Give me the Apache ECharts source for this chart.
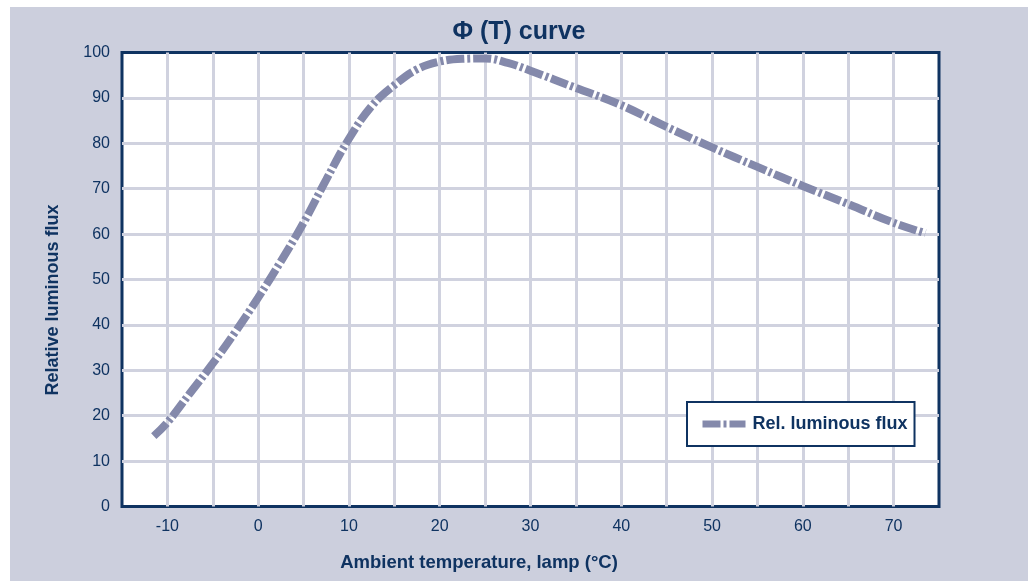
<!DOCTYPE html>
<html>
<head>
<meta charset="utf-8">
<script src="https://cdn.jsdelivr.net/npm/echarts@6/dist/echarts.min.js"></script>
<style>
    html, body {margin: 0; padding: 0; background: #ffffff;}
    #chart {position: absolute; left: 10px; top: 7px; width: 1018px; height: 574px;}
</style>
</head>
<body>
<div id="chart"></div>
<script>
// temperature (°C) and relative luminous flux
const temps = [-11.5, -10, -7.5, -5, -2.5, 0, 2.5, 5, 7.5, 10, 12.5, 15, 17.5, 20, 22.5, 25, 27.5, 30, 35, 40, 45, 50, 55, 60, 65, 70, 73.5];
const flux = [15.5, 18.5, 25, 31.5, 38.5, 46, 54, 62.5, 72, 81, 88.2, 92.8, 96.3, 98, 98.6, 98.7, 97.7, 96, 92.2, 88.4, 83.6, 79.1, 74.8, 70.6, 66.6, 62.5, 60.2];
const seriesName = 'Rel. luminous flux';
const titleText = 'Φ (T) curve';
const xName = 'Ambient temperature, lamp (°C)';
const yName = 'Relative luminous flux';

const navy = '#0f3361';
const curveColor = '#8489ab';
const font = "'Liberation Sans', Arial, sans-serif";

let myChart = echarts.init(document.getElementById('chart'));
let option = {
    backgroundColor: '#cccfdd',
    animation: false,
    title: {
        text: titleText,
        left: 'center',
        top: 8,
        padding: [5, 12, 5, 5],
        textStyle: {color: navy, fontSize: 25, fontWeight: 'bold', fontFamily: font}
    },
    grid: {
        left: 112,
        top: 45.5,
        right: 89,
        bottom: 74.5,
        show: true,
        backgroundColor: '#ffffff',
        borderColor: navy,
        borderWidth: 3
    },
    legend: {
        left: 677,
        top: 395,
        backgroundColor: '#ffffff',
        borderColor: navy,
        borderWidth: 2,
        padding: [13, 7, 13, 12],
        itemWidth: 43,
        itemHeight: 8,
        itemGap: 8,
        lineStyle: {width: 7},
        itemStyle: {opacity: 0},
        textStyle: {color: navy, fontSize: 18, fontWeight: 'bold', fontFamily: font, padding: [0, 0, 0, 2]},
        data: [seriesName]
    },
    xAxis: {
        type: 'value',
        min: -15,
        max: 75,
        interval: 5,
        axisLine: {show: false},
        axisTick: {show: false},
        axisLabel: {
            color: navy,
            fontSize: 16,
            fontFamily: font,
            margin: 12,
            formatter: v => (v % 10 === 0 ? String(v) : '')
        },
        splitLine: {show: true, showMinLine: false, showMaxLine: false, lineStyle: {color: '#d0d2df', width: 3}}
    },
    yAxis: {
        type: 'value',
        min: 0,
        max: 100,
        interval: 10,
        axisLine: {show: false},
        axisTick: {show: false},
        axisLabel: {color: navy, fontSize: 16, fontFamily: font, margin: 12},
        splitLine: {show: true, showMinLine: false, showMaxLine: false, lineStyle: {color: '#d0d2df', width: 3}}
    },
    graphic: [
        {
            type: 'text',
            x: 469,
            y: 556,
            style: {text: xName, fill: navy, font: 'bold 18.5px ' + font, textAlign: 'center', textVerticalAlign: 'middle'}
        },
        {
            type: 'text',
            x: 43,
            y: 293,
            rotation: Math.PI / 2,
            style: {text: yName, fill: navy, font: 'bold 18px ' + font, textAlign: 'center', textVerticalAlign: 'middle'}
        }
    ],
    series: [{
        name: seriesName,
        type: 'line',
        smooth: 0.4,
        symbol: 'none',
        data: temps.map((t, i) => [t, flux[i]]),
        lineStyle: {color: curveColor, width: 8, type: [18, 3, 3, 3]},
        itemStyle: {color: curveColor}
    }]
};
myChart.setOption(option);
</script>
</body>
</html>
